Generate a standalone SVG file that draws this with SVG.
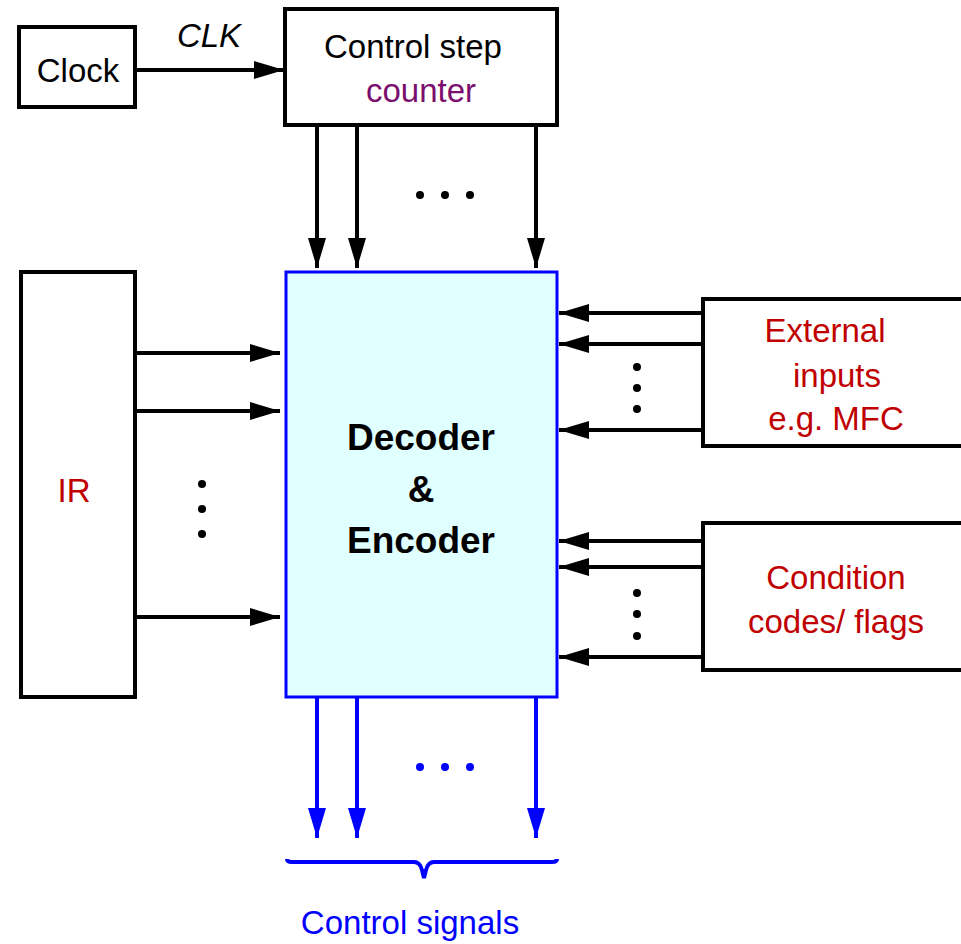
<svg xmlns="http://www.w3.org/2000/svg" width="961" height="944" viewBox="0 0 961 944">
<defs>
<style>
.box{fill:#fff;stroke:#000;stroke-width:4}
.dec{fill:#e0ffff;stroke:#0000ff;stroke-width:3}
.t{font-family:"Liberation Sans",Arial,sans-serif;font-size:33px;text-anchor:middle}
.red{fill:#c00000}
.blk{fill:#000}
.pur{fill:#7b0f6e}
.blue{fill:#0000ff}
.w{stroke:#000;stroke-width:4;fill:none}
.wb{stroke:#0000ff;stroke-width:4;fill:none}
.bold{font-weight:bold;font-size:37px}
</style>
<marker id="ah" markerUnits="userSpaceOnUse" markerWidth="32" markerHeight="20" refX="30" refY="9" orient="auto">
<path d="M0,0 L30,9 L0,18 Z" fill="#000"/>
</marker>
<marker id="ahb" markerUnits="userSpaceOnUse" markerWidth="32" markerHeight="20" refX="30" refY="9" orient="auto">
<path d="M0,0 L30,9 L0,18 Z" fill="#0000ff"/>
</marker>
</defs>
<rect width="961" height="944" fill="#fff"/>
<g id="connectors">
<line class="w" x1="135" y1="70" x2="284" y2="70" marker-end="url(#ah)"/>
<line class="w" x1="317" y1="125" x2="317" y2="268" marker-end="url(#ah)"/>
<line class="w" x1="357" y1="125" x2="357" y2="268" marker-end="url(#ah)"/>
<line class="w" x1="536" y1="125" x2="536" y2="268" marker-end="url(#ah)"/>
<line class="w" x1="135" y1="353" x2="280" y2="353" marker-end="url(#ah)"/>
<line class="w" x1="135" y1="411" x2="280" y2="411" marker-end="url(#ah)"/>
<line class="w" x1="135" y1="617" x2="280" y2="617" marker-end="url(#ah)"/>
<line class="w" x1="703" y1="313" x2="559" y2="313" marker-end="url(#ah)"/>
<line class="w" x1="703" y1="344" x2="559" y2="344" marker-end="url(#ah)"/>
<line class="w" x1="703" y1="430" x2="559" y2="430" marker-end="url(#ah)"/>
<line class="w" x1="703" y1="541" x2="559" y2="541" marker-end="url(#ah)"/>
<line class="w" x1="703" y1="567" x2="559" y2="567" marker-end="url(#ah)"/>
<line class="w" x1="703" y1="657" x2="559" y2="657" marker-end="url(#ah)"/>
<line class="wb" x1="317" y1="698" x2="317" y2="838" marker-end="url(#ahb)"/>
<line class="wb" x1="357" y1="698" x2="357" y2="838" marker-end="url(#ahb)"/>
<line class="wb" x1="536" y1="698" x2="536" y2="838" marker-end="url(#ahb)"/>
<text class="t blk" x="209" y="47" font-style="italic" font-size="29">CLK</text>
<g class="blk">
<circle cx="420" cy="195" r="4"/><circle cx="445" cy="195" r="4"/><circle cx="470" cy="195" r="4"/>
<circle cx="202" cy="484" r="4"/><circle cx="202" cy="509" r="4"/><circle cx="202" cy="534" r="4"/>
<circle cx="637" cy="367" r="4"/><circle cx="637" cy="388" r="4"/><circle cx="637" cy="409" r="4"/>
<circle cx="637" cy="593" r="4"/><circle cx="637" cy="614" r="4"/><circle cx="637" cy="636" r="4"/>
</g>
<g class="blue">
<circle cx="420" cy="767" r="4"/><circle cx="445" cy="767" r="4"/><circle cx="470" cy="767" r="4"/>
</g>
<path class="wb" stroke-width="3.5" d="M287,859 Q287,862 292,862 L414,862 Q420,862 422,870 L424,878 L426,870 Q428,862 434,862 L552,862 Q557,862 557,859"/>
<text class="t blue" x="410" y="934">Control signals</text>
</g>
<g id="clock">
<rect class="box" x="19" y="27" width="116" height="80"/>
<text class="t blk" x="78" y="82">Clock</text>
</g>
<g id="counter">
<rect class="box" x="285" y="9" width="272" height="116"/>
<text class="t blk" x="413" y="58">Control step</text>
<text class="t pur" x="421" y="102">counter</text>
</g>
<g id="decoder">
<rect class="dec" x="286" y="272" width="271" height="425"/>
<text class="t blk bold" x="421" y="450">Decoder</text>
<text class="t blk bold" x="421" y="502">&amp;</text>
<text class="t blk bold" x="421" y="553">Encoder</text>
</g>
<g id="ir">
<rect class="box" x="21" y="272" width="114" height="425"/>
<text class="t red" x="74" y="502">IR</text>
</g>
<g id="external">
<rect class="box" x="703" y="299" width="270" height="147"/>
<text class="t red" x="825" y="342">External</text>
<text class="t red" x="837" y="387">inputs</text>
<text class="t red" x="836" y="430">e.g. MFC</text>
</g>
<g id="condition">
<rect class="box" x="703" y="523" width="270" height="147"/>
<text class="t red" x="836" y="589">Condition</text>
<text class="t red" x="836" y="633">codes/ flags</text>
</g>
</svg>
